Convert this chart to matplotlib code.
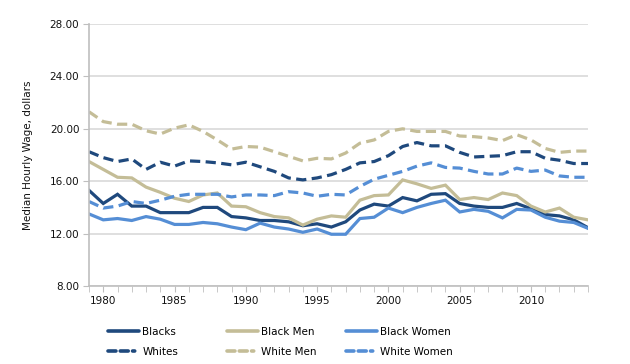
#!/usr/bin/env python3

import numpy as np
import matplotlib
matplotlib.use("Agg")
import matplotlib.pyplot as plt
from matplotlib.lines import Line2D

years = list(range(1979, 2015))

blacks = [15.3, 14.3, 15.0, 14.1, 14.1, 13.6, 13.6, 13.6, 14.0, 14.0, 13.3, 13.2,
          13.0, 13.0, 12.9, 12.6, 12.75, 12.5, 12.9, 13.8, 14.25, 14.1, 14.75, 14.5,
          15.0, 15.05, 14.3, 14.1, 14.0, 14.0, 14.3, 13.9, 13.45, 13.35, 13.05, 12.45]
black_men = [17.5, 16.9, 16.3, 16.25, 15.55, 15.15, 14.7, 14.45, 14.95, 15.1, 14.1, 14.05,
             13.6, 13.3, 13.2, 12.65, 13.1, 13.35, 13.25, 14.55, 14.9, 14.95, 16.1, 15.8,
             15.45, 15.7, 14.6, 14.75, 14.6, 15.1, 14.9, 14.1, 13.65, 13.95, 13.25, 13.05]
black_women = [13.5, 13.05, 13.15, 13.0, 13.3, 13.1, 12.7, 12.7, 12.85, 12.75, 12.5, 12.3,
               12.8, 12.5, 12.35, 12.1, 12.35, 11.95, 11.95, 13.15, 13.25, 13.95, 13.6, 14.0,
               14.3, 14.55, 13.65, 13.85, 13.7, 13.2, 13.85, 13.8, 13.25, 12.95, 12.85, 12.4]
whites = [18.25, 17.8, 17.5, 17.7, 16.9, 17.45, 17.15, 17.55, 17.5, 17.4, 17.25, 17.45,
          17.1, 16.75, 16.25, 16.1, 16.25, 16.5, 16.9, 17.4, 17.5, 17.95, 18.65, 18.95,
          18.7, 18.7, 18.2, 17.85, 17.9, 17.95, 18.25, 18.25, 17.75, 17.6, 17.35, 17.35]
white_men = [21.3, 20.55, 20.35, 20.35, 19.85, 19.6, 20.05, 20.3, 19.8, 19.15, 18.45, 18.65,
             18.6, 18.25, 17.9, 17.55, 17.75, 17.7, 18.15, 18.9, 19.15, 19.8, 20.0, 19.8,
             19.8, 19.8, 19.45, 19.4, 19.3, 19.1, 19.55, 19.15, 18.5, 18.2, 18.3, 18.3]
white_women = [14.45, 13.95, 14.1, 14.45, 14.3, 14.55, 14.85, 15.0, 15.0, 15.0, 14.8, 14.95,
               14.95, 14.9, 15.2, 15.1, 14.85, 15.0, 14.95, 15.6, 16.15, 16.45, 16.75, 17.15,
               17.4, 17.05, 17.0, 16.75, 16.55, 16.55, 17.0, 16.75, 16.85, 16.4, 16.3, 16.3]

y_ticks = [8, 12, 16, 20, 24, 28]
x_labels = [1980, 1985, 1990, 1995, 2000, 2005, 2010]

NAVY = "#1F497D"
TAN = "#C4BD97"
BLUE = "#558ED5"
GRID = "#D9D9D9"
AXIS = "#BFBFBF"


def main():
    plt.rcParams["font.family"] = ["DejaVu Sans"]
    fig = plt.figure(figsize=(6.3, 3.64), dpi=100)
    ax = fig.add_axes([89 / 630, 1 - 286 / 364, (588 - 89) / 630, (286 - 24) / 364])

    lw = 2.3
    dash = (0, (3.2, 1.7))
    series = [
        ("Blacks", blacks, NAVY, "-"),
        ("Black Men", black_men, TAN, "-"),
        ("Black Women", black_women, BLUE, "-"),
        ("Whites", whites, NAVY, dash),
        ("White Men", white_men, TAN, dash),
        ("White Women", white_women, BLUE, dash),
    ]
    handles = {}
    for name, vals, color, ls in series:
        ln, = ax.plot(years, vals, color=color, lw=lw, linestyle=ls, label=name,
                      solid_joinstyle="miter", dash_capstyle="butt")
        handles[name] = ln

    ax.set_xlim(1979, 2014)
    ax.set_ylim(8, 28)
    ax.set_yticks(y_ticks)
    ax.set_yticklabels([f"{v:.2f}" for v in y_ticks])
    ax.set_xticks(x_labels)
    ax.set_xticks(years, minor=True)
    ax.grid(axis="y", color=GRID, lw=1.2)
    ax.set_axisbelow(True)

    for side in ("top", "right"):
        ax.spines[side].set_visible(False)
    for side in ("left", "bottom"):
        ax.spines[side].set_color(AXIS)
        ax.spines[side].set_linewidth(1.2)

    ax.tick_params(axis="y", length=4, color=AXIS, labelsize=7.5, pad=3, labelcolor="#111111")
    ax.tick_params(axis="x", which="both", length=4, color=AXIS, labelsize=7.5, pad=3,
                   labelcolor="#111111")
    ax.set_ylabel("Median Hourly Wage, dollars", fontsize=7.5, labelpad=12, color="#111111")

    # legend: three fixed columns, two rows each
    cols = [("Blacks", "Whites"), ("Black Men", "White Men"), ("Black Women", "White Women")]
    col_x = [108, 227, 346]
    for names, x in zip(cols, col_x):
        hs = []
        for n in names:
            src = handles[n]
            style = "-" if src.get_linestyle() == "-" else (0, (2.2, 1.2, 2.2, 1.2, 0.6, 1.2))
            hs.append(Line2D([], [], color=src.get_color(), lw=2.6, linestyle=style,
                             dash_capstyle="round", solid_capstyle="round"))
        fig.legend(hs, names, loc="upper left", bbox_to_anchor=(x / 630, 1 - 327 / 364),
                   frameon=False, fontsize=7.5, handlelength=3.0, handletextpad=0.3,
                   labelspacing=0.95, borderpad=0, borderaxespad=0)

    fig.savefig("out.png", dpi=100)
    plt.close(fig)


if __name__ == "__main__":
    main()
